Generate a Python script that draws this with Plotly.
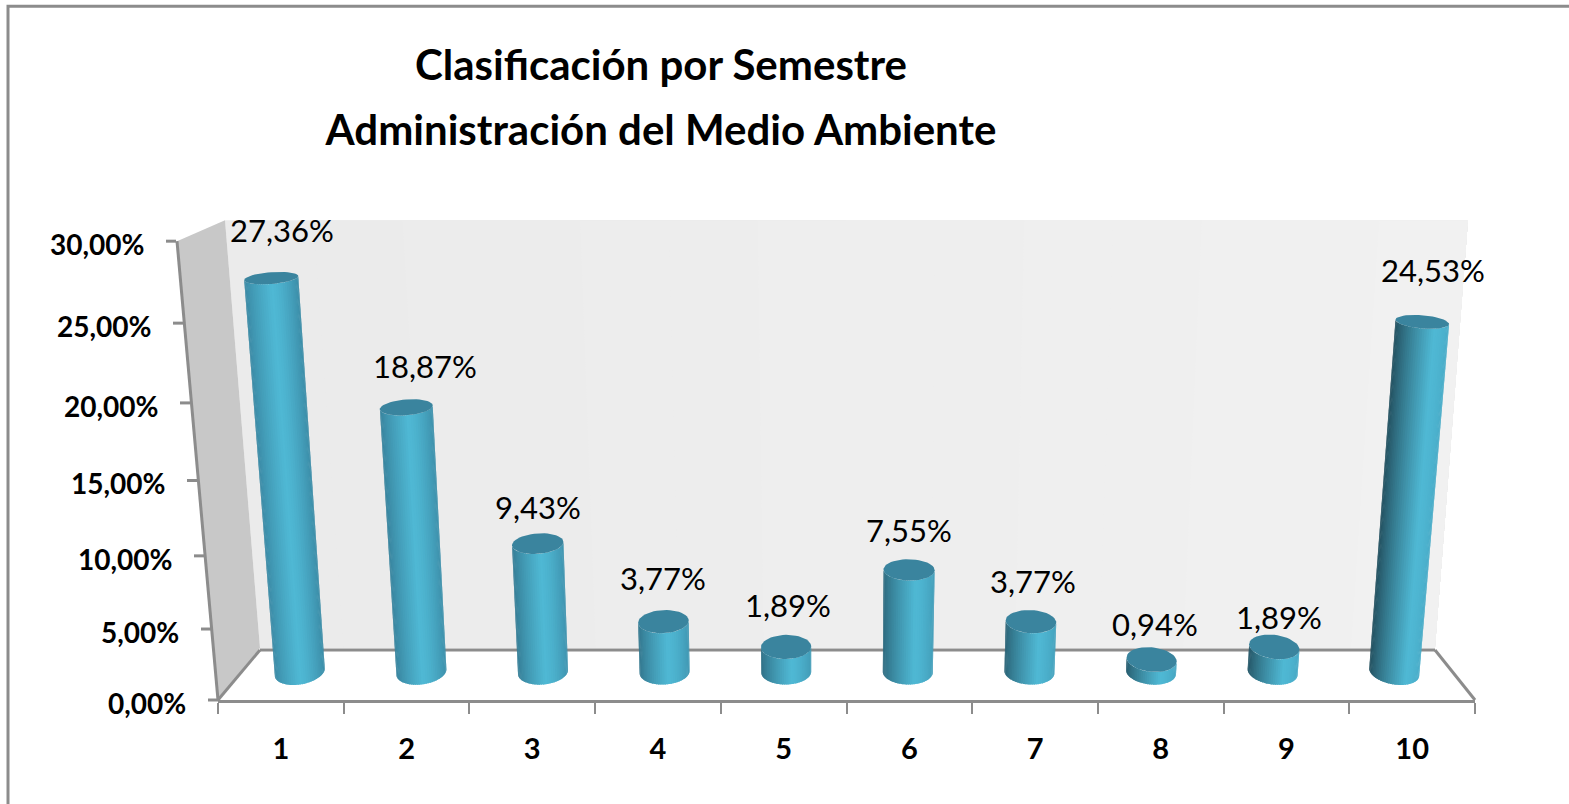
import math
import plotly.graph_objects as go

categories = ["1", "2", "3", "4", "5", "6", "7", "8", "9", "10"]
values = [27.36, 18.87, 9.43, 3.77, 1.89, 7.55, 3.77, 0.94, 1.89, 24.53]
value_labels = ["27,36%", "18,87%", "9,43%", "3,77%", "1,89%", "7,55%", "3,77%", "0,94%", "1,89%", "24,53%"]
y_ticks = [0, 5, 10, 15, 20, 25, 30]
y_tick_labels = ["0,00%", "5,00%", "10,00%", "15,00%", "20,00%", "25,00%", "30,00%"]
title_lines = ["Clasificación por Semestre", "Administración del Medio Ambiente"]
label_shift = [(11, 48), (19, 41), (0, 37), (0, 44), (2, 42), (0, 40), (2, 41), (3, 36), (5, 30), (11, 52)]

W, H = 1569, 804
PX0, PX1 = 218, 1475      # x axis ends in pixels
PY0 = 700                 # value 0 on the front left edge
PPU = 15.3                # axis pixels per percent
YMAX = 34
PYT = PY0 - YMAX * PPU
AX = "#8c8c8c"
FONT = "Lato, Carlito, Calibri, sans-serif"


def to_axis(px, py):
    return (0.5 + (px - PX0) / (PX1 - PX0) * 10, (PY0 - py) / PPU)


def to_paper(px, py):
    return ((px - PX0) / (PX1 - PX0), (PY0 - py) / (PY0 - PYT))


def project(cat, v, d):
    """cat: 0.5..10.5 along the floor, v: value, d: depth 0 (front) or 0.5 (bars); returns pixels."""
    t = (cat - 0.5) / 10
    spread_l = 42 - 7 * min(1, 2 * d)
    spread_r = 40 - 2 * min(1, 2 * d)
    left = PX0 + 42 * d - spread_l * v / 30
    right = PX1 - 40 * d + spread_r * v / 30
    a = 13.98 - 0.78 * min(1, 2 * d)
    b = 0.044
    y = PY0 - 56 * d - (a * v + b * v * v)
    return left + (right - left) * t, y


def mix(c1, c2, f):
    return tuple(c1[i] + (c2[i] - c1[i]) * f for i in range(3))


DARK = (34, 78, 93)
MID = (58, 136, 163)
BRIGHT = (79, 184, 212)
TOP = (58, 132, 158)


def shade(u, k):
    """u 0..1 across the bar, k 0..1 bar position left to right."""
    peak = 0.5 + 0.22 * k
    if u < peak:
        f = u / peak
        left = mix(MID, DARK, k)
        c = mix(left, BRIGHT, f ** 0.8)
    else:
        f = (u - peak) / (1 - peak)
        c = mix(BRIGHT, mix(MID, BRIGHT, 0.1 + 0.65 * k), f ** 1.5)
    return "rgb(%d,%d,%d)" % tuple(round(x) for x in c)


fig = go.Figure()
N = 36
for i, v in enumerate(values):
    cat = i + 1
    k = i / 9
    sk = (k - 0.5) * 2  # skew sign
    bx, by = project(cat, 0, 0.5)
    tx, ty = project(cat, v, 0.5)
    a0, a1 = 25, 25 + 2 * v / 27
    b0, b1 = 12.5, 12.5 - 6.5 * v / 27
    s0, s1 = 3.5 * sk, (3.5 - 1.5 * v / 27) * sk

    def pt(theta, top):
        if top:
            return tx + a1 * math.cos(theta), ty + b1 * math.sin(theta) + s1 * math.cos(theta)
        return bx + a0 * math.cos(theta), by + b0 * math.sin(theta) + s0 * math.cos(theta)

    for j in range(N):
        t0 = math.pi * (1 - j / N)
        t1 = max(0.0, math.pi * (1 - (j + 1.6) / N))
        u = (1 + math.cos(math.pi * (1 - (j + 0.5) / N))) / 2
        ths = [t0 + (t1 - t0) * m / 3 for m in range(4)]
        pts = [pt(t, False) for t in ths] + [pt(t, True) for t in reversed(ths)]
        pts = [to_axis(*p) for p in pts]
        fig.add_trace(go.Scatter(
            x=[p[0] for p in pts] + [pts[0][0]], y=[p[1] for p in pts] + [pts[0][1]],
            mode="lines", fill="toself", fillcolor=shade(u, k), line=dict(width=0, simplify=False),
            hoverinfo="skip", showlegend=False))
    ell = [to_axis(*pt(2 * math.pi * m / 48, True)) for m in range(49)]
    fig.add_trace(go.Scatter(
        x=[p[0] for p in ell], y=[p[1] for p in ell], mode="lines", fill="toself",
        fillcolor="rgb(%d,%d,%d)" % TOP, line=dict(width=0), hoverinfo="skip", showlegend=False))

# Frame shapes, in paper units so they may sit outside the axes
shapes = []


def poly(points, fill=None, line=None, width=0):
    pts = [to_paper(*p) for p in points]
    path = "M " + " L ".join("%.5f,%.5f" % p for p in pts) + (" Z" if fill else "")
    shapes.append(dict(type="path", path=path, xref="paper", yref="paper", layer="below",
                       fillcolor=fill or "rgba(0,0,0,0)",
                       line=dict(color=line or "rgba(0,0,0,0)", width=width)))


n = 14
for s in range(n):
    f0 = s / n
    c = round(235 + 6 * f0)
    col = "rgb(%d,%d,%d)" % (c, c, c)
    xt = 225 + (1468 - 225) * f0
    xb = 260 + (1435 - 260) * f0
    poly([(xt, 220), (1468, 220), (1435, 648), (xb, 648)], fill=col)
poly([(177, 241), (225, 220), (260, 648), (218, 700)], fill="#c8c8c8")
poly([(218, 700), (260, 649), (1435, 649), (1475, 700)], fill="#ffffff")
poly([(260, 650), (1435, 650)], line=AX, width=3)
poly([(218, 700), (260, 650)], line=AX, width=3)
poly([(1435, 650), (1475, 700)], line=AX, width=3)
poly([(177, 241), (218, 700)], line=AX, width=3)
annotations = []
for tv, tl in zip(y_ticks, y_tick_labels):
    ex, ey = project(0.5, tv, 0)
    poly([(ex - 10, ey), (ex, ey)], line=AX, width=3)
    annotations.append(dict(x=0.5, y=tv, xref="x", yref="y", xshift=ex - 30 - PX0,
                            yshift=(PY0 - tv * PPU) - (ey + 3), text="<b>%s</b>" % tl, showarrow=False,
                            xanchor="right", yanchor="middle", font=dict(family=FONT, size=28, color="#000000")))

for i, v in enumerate(values):
    tx, ty = project(i + 1, v, 0.5)
    dx, dy = label_shift[i]
    ax, ay = to_axis(tx + dx, ty - dy)
    annotations.append(dict(x=ax, y=ay, xref="x", yref="y", text=value_labels[i], showarrow=False,
                            xanchor="center", yanchor="middle", font=dict(family=FONT, size=31, color="#000000")))

# outer chart border
poly([(8, 804), (8, 6), (1569, 6)], line=AX, width=3)

title_text = "<br>".join("<b><span style='font-size:42px'>%s</span></b>" % t for t in title_lines)
fig.update_layout(
    width=W, height=H, paper_bgcolor="#ffffff", plot_bgcolor="rgba(0,0,0,0)",
    margin=dict(l=PX0, r=W - PX1, t=PYT, b=H - PY0, autoexpand=False),
    title=dict(text=title_text, x=661 / W, xanchor="center", y=1 - 80 / H, yanchor="top",
               font=dict(family=FONT, size=50, color="#000000")),
    xaxis=dict(range=[0.5, 10.5], tickmode="array", tickvals=list(range(1, 11)), ticktext=["<b>%s</b>" % c for c in categories],
               tickfont=dict(family=FONT, size=29, color="#000000"), ticks="outside", ticklen=21,
               tickcolor="rgba(0,0,0,0)", showgrid=False, zeroline=False, showline=True,
               linecolor=AX, linewidth=3, fixedrange=True,
               minor=dict(tickmode="array", tickvals=[x + 0.5 for x in range(0, 11)], ticks="outside", ticklen=11, tickcolor=AX, tickwidth=2, showgrid=False)),
    yaxis=dict(range=[0, YMAX], tickmode="array", tickvals=y_ticks, showticklabels=False, ticks="",
               showgrid=False, zeroline=False, showline=False, fixedrange=True),
    shapes=shapes, annotations=annotations, showlegend=False,
)
fig.write_html("out.html", config=dict(displayModeBar=False),
               post_script="document.body.style.margin='0';document.body.style.overflow='hidden';")
